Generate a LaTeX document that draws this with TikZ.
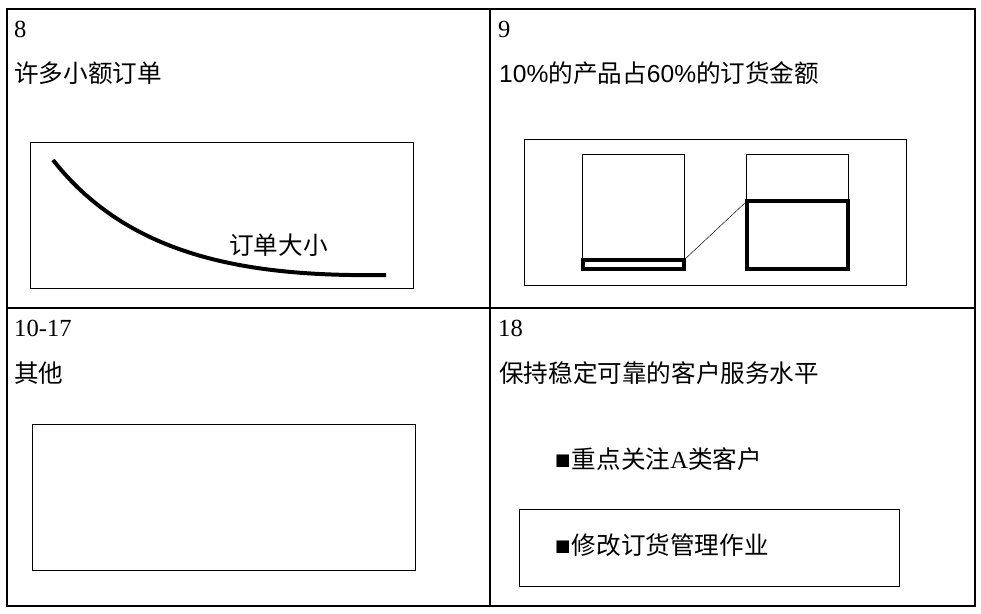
\documentclass[tikz,border=0pt]{standalone}
\usepackage{fontspec}
\setmainfont{Liberation Serif}
\newfontfamily\cjk{Noto Sans CJK SC}
\newfontfamily\arial{Liberation Sans}
\newfontfamily\symb{DejaVu Sans}
\newcommand{\sqbullet}{\raisebox{2.5pt}{\symb\fontsize{14}{14}\selectfont ■}\hspace{1pt}}
\tikzset{
  frame/.style={draw=black,line width=1.7pt},
  thinbox/.style={draw=black,line width=0.7pt},
  thickbar/.style={draw=black,line width=3pt},
  lbl/.style={anchor=west,inner sep=0pt,font=\fontsize{21}{24}\selectfont},
}
\begin{document}
\begin{tikzpicture}[x=0.03cm,y=-0.03cm]
            \useasboundingbox (0,0) rectangle (981,613);
            % outer frame and panel dividers
            \draw[frame] (7,9) rectangle (975,606);
            \draw[frame] (490,9) -- (490,606);
            \draw[frame] (7,308) -- (975,308);

            % panel 8
            \node[lbl] (n8) at (14,29) {8};
            \node[lbl] (t8) at (14,73) {\cjk 许多小额订单};
            \draw[thinbox] (30,142) rectangle (413,288);
            \coordinate (c8a) at (53,160);
            \coordinate (c8b) at (386,275);
            \draw[line width=3.4pt] (c8a) .. controls (130,258) and (250,277) .. (c8b);
            \node[lbl] (size) at (229,245) {\cjk 订单大小};

            % panel 9
            \node[lbl] (n9) at (498,29) {9};
            \node[lbl] (t9) at (499,73) {\arial 10\%\cjk 的产品占\arial 60\%\cjk 的订货金额};
            \draw[thinbox] (524,139) rectangle (906,285);
            \draw[thinbox] (582,154) rectangle (684,270);
            \draw[thinbox] (746,154) rectangle (848,270);
            \draw[thickbar] (583,260) rectangle (684,269);
            \draw[thickbar] (747,201) rectangle (848,269);
            \coordinate (barL) at (684,260);
            \coordinate (barR) at (747,201);
            \path[draw=black,line width=0.4pt] (barL) edge (barR);

            % panel 10-17
            \node[lbl] (n10) at (14,328) {10-17};
            \node[lbl] (t10) at (14,373) {\cjk 其他};
            \draw[thinbox] (32,424) rectangle (415,570);

            % panel 18
            \node[lbl] (n18) at (498,328) {18};
            \node[lbl] (t18) at (499,373) {\cjk 保持稳定可靠的客户服务水平};
            \node[lbl] (p1) at (555,459) {\sqbullet\cjk 重点关注\rmfamily A\cjk 类客户};
            \draw[thinbox] (519,509) rectangle (899,586);
            \node[lbl] (p2) at (555,545) {\sqbullet\cjk 修改订货管理作业};
\end{tikzpicture}
\end{document}
